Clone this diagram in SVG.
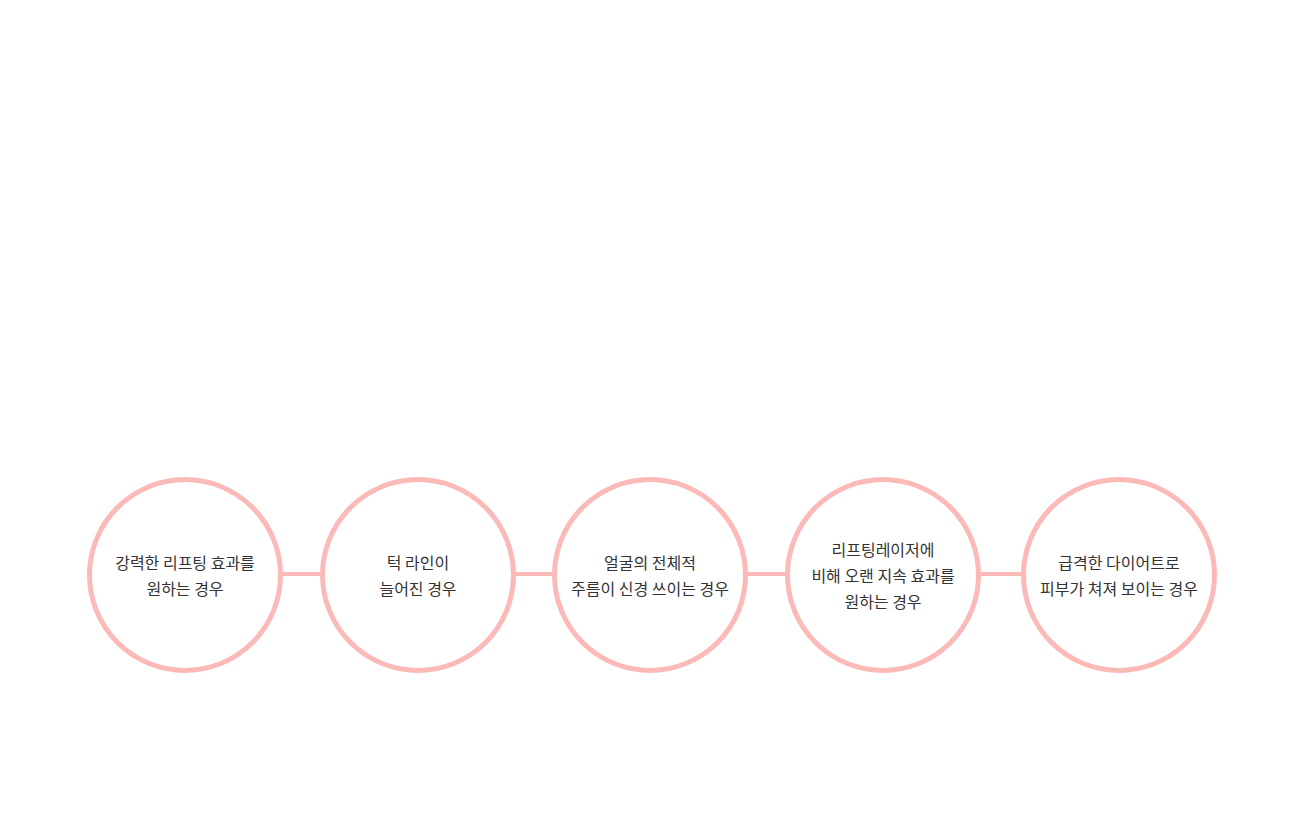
<svg xmlns="http://www.w3.org/2000/svg" width="1300" height="832" viewBox="0 0 1300 832">
<style>
.c{fill:#fff;stroke:#fbb9b8;stroke-width:5}
.l{stroke:#fbb9b8;stroke-width:4}
text{font-family:"Noto Sans CJK KR",sans-serif;font-size:16px;fill:#333;text-anchor:middle}
</style>
<rect width="1300" height="832" fill="#fff"/>
<g id="connectors">
<line class="l" x1="283" y1="574" x2="320" y2="574"/>
<line class="l" x1="516" y1="574" x2="552" y2="574"/>
<line class="l" x1="748" y1="574" x2="785" y2="574"/>
<line class="l" x1="981" y1="574" x2="1021" y2="574"/>
</g>
<g id="n1"><circle class="c" cx="185" cy="575" r="95.5"/><text x="185" y="569">강력한 리프팅 효과를</text><text x="185" y="595">원하는 경우</text></g>
<g id="n2"><circle class="c" cx="418" cy="575" r="95.5"/><text x="418" y="569">턱 라인이</text><text x="418" y="595">늘어진 경우</text></g>
<g id="n3"><circle class="c" cx="650" cy="575" r="95.5"/><text x="650" y="569">얼굴의 전체적</text><text x="650" y="595">주름이 신경 쓰이는 경우</text></g>
<g id="n4"><circle class="c" cx="883" cy="575" r="95.5"/><text x="883" y="556">리프팅레이저에</text><text x="883" y="582">비해 오랜 지속 효과를</text><text x="883" y="608">원하는 경우</text></g>
<g id="n5"><circle class="c" cx="1119" cy="575" r="95.5"/><text x="1119" y="569">급격한 다이어트로</text><text x="1119" y="595">피부가 쳐져 보이는 경우</text></g>
</svg>
